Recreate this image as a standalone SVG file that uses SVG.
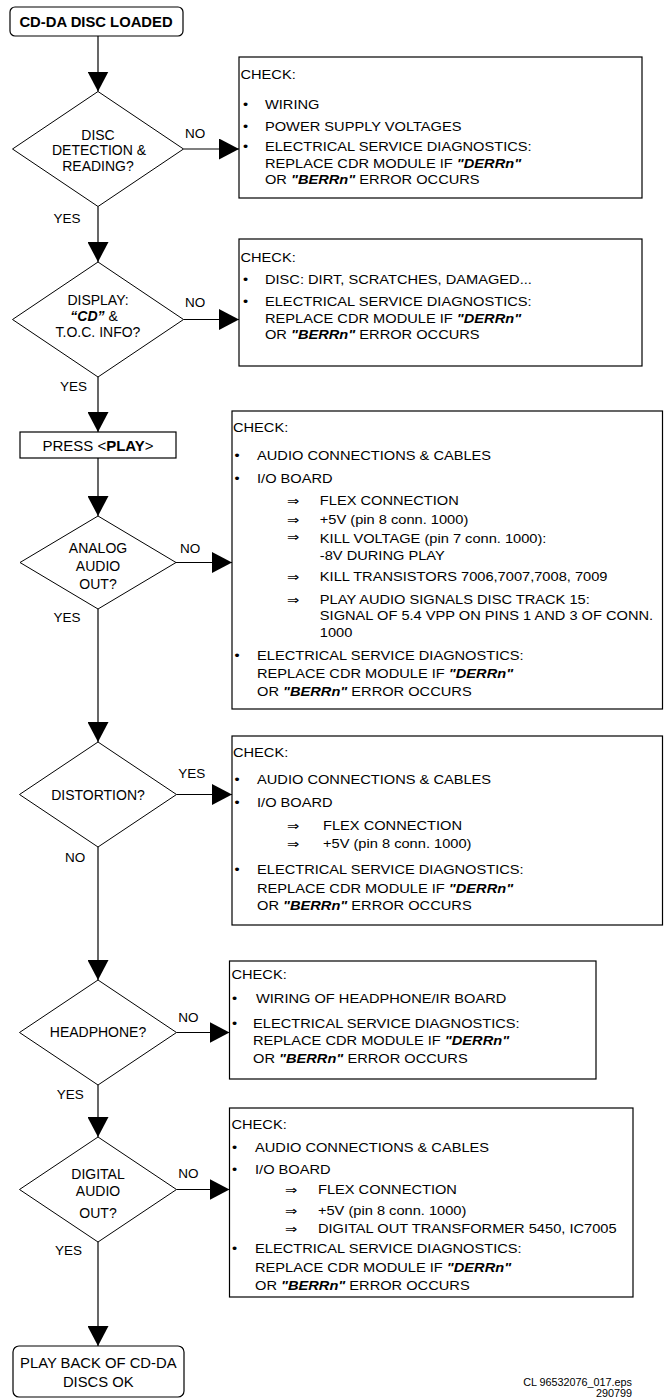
<svg xmlns="http://www.w3.org/2000/svg" width="664" height="1398" viewBox="0 0 664 1398">
<style>
text { font-family: "Liberation Sans", Arial, "DejaVu Sans", sans-serif; fill: #000; }
.box { fill: #fff; stroke: #000; stroke-width: 1.2; }
.dia { fill: #fff; stroke: #000; stroke-width: 1; }
.t14 { font-size: 14px; text-anchor: middle; }
.lbl { font-size: 13.5px; }
.bx { font-size: 12px; }
.bi { font-weight: bold; font-style: italic; }
.b { font-weight: bold; }
.ar { font-family: "DejaVu Sans", sans-serif; }
.conn line { stroke: #000; stroke-width: 1.2; }
.foot { font-size: 10.8px; text-anchor: end; }
</style>
<defs>
<marker id="ah" markerUnits="userSpaceOnUse" markerWidth="20" markerHeight="21" refX="20" refY="10.5" orient="auto" viewBox="0 0 20 21">
<path d="M0,0 L20,10.5 L0,21 Z" fill="#000"/>
</marker>
</defs>
<rect width="664" height="1398" fill="#fff"/>

<g id="connectors" class="conn">
<line x1="98" y1="36" x2="98" y2="91.5" marker-end="url(#ah)"/>
<line x1="98" y1="206.5" x2="98" y2="262" marker-end="url(#ah)"/>
<line x1="98" y1="377" x2="98" y2="432" marker-end="url(#ah)"/>
<line x1="98" y1="458" x2="98" y2="516" marker-end="url(#ah)"/>
<line x1="98" y1="609" x2="98" y2="742" marker-end="url(#ah)"/>
<line x1="98" y1="847" x2="98" y2="980" marker-end="url(#ah)"/>
<line x1="98" y1="1085" x2="98" y2="1137" marker-end="url(#ah)"/>
<line x1="98" y1="1242" x2="98" y2="1346" marker-end="url(#ah)"/>
<line x1="183.5" y1="149" x2="239" y2="149" marker-end="url(#ah)"/>
<line x1="183.5" y1="319.5" x2="239" y2="319.5" marker-end="url(#ah)"/>
<line x1="176" y1="562.5" x2="232" y2="562.5" marker-end="url(#ah)"/>
<line x1="176.5" y1="794.5" x2="232" y2="794.5" marker-end="url(#ah)"/>
<line x1="176.5" y1="1032.5" x2="229.5" y2="1032.5" marker-end="url(#ah)"/>
<line x1="176.5" y1="1189.5" x2="229.5" y2="1189.5" marker-end="url(#ah)"/>
</g>

<g id="labels" class="lbl">
<text x="185" y="137.5">NO</text>
<text x="53.5" y="222.7">YES</text>
<text x="185" y="306.7">NO</text>
<text x="60" y="390.7">YES</text>
<text x="180" y="553">NO</text>
<text x="53.5" y="621.7">YES</text>
<text x="178.3" y="777.7">YES</text>
<text x="65" y="861.7">NO</text>
<text x="178.3" y="1022">NO</text>
<text x="56.7" y="1099">YES</text>
<text x="178.3" y="1178">NO</text>
<text x="55" y="1255.3">YES</text>
</g>

<g id="start">
<rect class="box" x="10" y="7" width="173" height="29" rx="5"/>
<text class="t14 b" x="96" y="27.3" style="font-size:14.8px">CD-DA DISC LOADED</text>
</g>

<g id="d1">
<polygon class="dia" points="98,91.5 183.5,149 98,206.5 12.5,149"/>
<text class="t14" x="98" y="140">DISC</text>
<text class="t14" x="99" y="155">DETECTION &amp;</text>
<text class="t14" x="98" y="171">READING?</text>
</g>

<g id="check1">
<rect class="box" x="239" y="57" width="403" height="141"/>
<g class="bx" transform="translate(239,0) scale(1.22,1)">
<text x="1.2" y="79">CHECK:</text>
<text x="3.3" y="109">•</text><text x="21.3" y="109">WIRING</text>
<text x="3.3" y="131.5">•</text><text x="21.3" y="131.5">POWER SUPPLY VOLTAGES</text>
<text x="3.3" y="151">•</text><text x="21.3" y="151">ELECTRICAL SERVICE DIAGNOSTICS:</text>
<text x="21.3" y="167.7">REPLACE CDR MODULE IF <tspan class="bi">"DERRn"</tspan></text>
<text x="21.3" y="184">OR <tspan class="bi">"BERRn"</tspan> ERROR OCCURS</text>
</g>
</g>

<g id="d2">
<polygon class="dia" points="98,262 183.5,319.5 98,377 12.5,319.5"/>
<text class="t14" x="98" y="305">DISPLAY:</text>
<text class="t14" x="94" y="321"><tspan class="bi">“CD”</tspan> &amp;</text>
<text class="t14" x="98" y="337">T.O.C. INFO?</text>
</g>

<g id="check2">
<rect class="box" x="239" y="239" width="403" height="127"/>
<g class="bx" transform="translate(239,0) scale(1.22,1)">
<text x="1.2" y="262.3">CHECK:</text>
<text x="3.3" y="284.3">•</text><text x="21.3" y="284.3">DISC: DIRT, SCRATCHES, DAMAGED...</text>
<text x="3.3" y="306">•</text><text x="21.3" y="306">ELECTRICAL SERVICE DIAGNOSTICS:</text>
<text x="21.3" y="322.6">REPLACE CDR MODULE IF <tspan class="bi">"DERRn"</tspan></text>
<text x="21.3" y="338.6">OR <tspan class="bi">"BERRn"</tspan> ERROR OCCURS</text>
</g>
</g>

<g id="play">
<rect class="box" x="20" y="432" width="156" height="26"/>
<text class="t14" x="98" y="450.7" style="font-size:15px">PRESS &lt;<tspan class="b">PLAY</tspan>&gt;</text>
</g>

<g id="d3">
<polygon class="dia" points="98,516 176,562.5 98,609 20,562.5"/>
<text class="t14" x="98" y="553">ANALOG</text>
<text class="t14" x="98" y="571">AUDIO</text>
<text class="t14" x="98" y="588.5">OUT?</text>
</g>

<g id="check3">
<rect class="box" x="232" y="411" width="430.5" height="298"/>
<g class="bx" transform="translate(232,0) scale(1.22,1)">
<text x="0.8" y="432.3">CHECK:</text>
<text x="2" y="460.3">•</text><text x="20.5" y="460.3">AUDIO CONNECTIONS &amp; CABLES</text>
<text x="2" y="482.6">•</text><text x="20.5" y="482.6">I/O BOARD</text>
<text class="ar" x="45" y="505">⇒</text><text x="72" y="505">FLEX CONNECTION</text>
<text class="ar" x="45" y="523.6">⇒</text><text x="72" y="523.6">+5V (pin 8 conn. 1000)</text>
<text class="ar" x="45" y="540.6">⇒</text><text x="72" y="542.6">KILL VOLTAGE (pin 7 conn. 1000):</text>
<text x="72" y="560">-8V DURING PLAY</text>
<text class="ar" x="45" y="581">⇒</text><text x="72" y="581">KILL TRANSISTORS 7006,7007,7008, 7009</text>
<text class="ar" x="45" y="603.6">⇒</text><text x="72" y="603.6">PLAY AUDIO SIGNALS DISC TRACK 15:</text>
<text x="72" y="620.3">SIGNAL OF 5.4 VPP ON PINS 1 AND 3 OF CONN.</text>
<text x="72" y="636.6">1000</text>
<text x="2" y="660.3">•</text><text x="20.5" y="660.3">ELECTRICAL SERVICE DIAGNOSTICS:</text>
<text x="20.5" y="678">REPLACE CDR MODULE IF <tspan class="bi">"DERRn"</tspan></text>
<text x="20.5" y="696">OR <tspan class="bi">"BERRn"</tspan> ERROR OCCURS</text>
</g>
</g>

<g id="d4">
<polygon class="dia" points="98,742 176.5,794.5 98,847 19.5,794.5"/>
<text class="t14" x="98" y="800">DISTORTION?</text>
</g>

<g id="check4">
<rect class="box" x="232" y="736" width="430.5" height="189"/>
<g class="bx" transform="translate(232,0) scale(1.22,1)">
<text x="0.8" y="757">CHECK:</text>
<text x="2" y="784.3">•</text><text x="20.5" y="784.3">AUDIO CONNECTIONS &amp; CABLES</text>
<text x="2" y="807">•</text><text x="20.5" y="807">I/O BOARD</text>
<text class="ar" x="45" y="830">⇒</text><text x="74.6" y="830">FLEX CONNECTION</text>
<text class="ar" x="45" y="847.6">⇒</text><text x="74.6" y="847.6">+5V (pin 8 conn. 1000)</text>
<text x="2" y="874.3">•</text><text x="20.5" y="874.3">ELECTRICAL SERVICE DIAGNOSTICS:</text>
<text x="20.5" y="892.6">REPLACE CDR MODULE IF <tspan class="bi">"DERRn"</tspan></text>
<text x="20.5" y="910">OR <tspan class="bi">"BERRn"</tspan> ERROR OCCURS</text>
</g>
</g>

<g id="d5">
<polygon class="dia" points="98,980 176.5,1032.5 98,1085 19.5,1032.5"/>
<text class="t14" x="98" y="1037">HEADPHONE?</text>
</g>

<g id="check5">
<rect class="box" x="229.5" y="961" width="366.5" height="118"/>
<g class="bx" transform="translate(229.5,0) scale(1.22,1)">
<text x="1.6" y="979">CHECK:</text>
<text x="2" y="1003.3">•</text><text x="21.7" y="1003.3">WIRING OF HEADPHONE/IR BOARD</text>
<text x="2" y="1027.6">•</text><text x="19.3" y="1027.6">ELECTRICAL SERVICE DIAGNOSTICS:</text>
<text x="19.3" y="1045.3">REPLACE CDR MODULE IF <tspan class="bi">"DERRn"</tspan></text>
<text x="19.3" y="1063.3">OR <tspan class="bi">"BERRn"</tspan> ERROR OCCURS</text>
</g>
</g>

<g id="d6">
<polygon class="dia" points="98,1137 176.5,1189.5 98,1242 19.5,1189.5"/>
<text class="t14" x="98" y="1179">DIGITAL</text>
<text class="t14" x="98" y="1196">AUDIO</text>
<text class="t14" x="98" y="1218">OUT?</text>
</g>

<g id="check6">
<rect class="box" x="229.5" y="1108" width="403.5" height="189"/>
<g class="bx" transform="translate(229.5,0) scale(1.22,1)">
<text x="1.6" y="1129.3">CHECK:</text>
<text x="2" y="1151.6">•</text><text x="20.9" y="1151.6">AUDIO CONNECTIONS &amp; CABLES</text>
<text x="2" y="1173.6">•</text><text x="20.9" y="1173.6">I/O BOARD</text>
<text class="ar" x="45.5" y="1194.3">⇒</text><text x="72.5" y="1194.3">FLEX CONNECTION</text>
<text class="ar" x="45.5" y="1215">⇒</text><text x="72.5" y="1215">+5V (pin 8 conn. 1000)</text>
<text class="ar" x="45.5" y="1233.3">⇒</text><text x="72.5" y="1233.3">DIGITAL OUT TRANSFORMER 5450, IC7005</text>
<text x="2" y="1253.3">•</text><text x="20.9" y="1253.3">ELECTRICAL SERVICE DIAGNOSTICS:</text>
<text x="20.9" y="1272.3">REPLACE CDR MODULE IF <tspan class="bi">"DERRn"</tspan></text>
<text x="20.9" y="1290.5">OR <tspan class="bi">"BERRn"</tspan> ERROR OCCURS</text>
</g>
</g>

<g id="end">
<rect class="box" x="13" y="1346" width="171" height="51" rx="6"/>
<text class="t14" x="98.3" y="1368" style="font-size:14.8px">PLAY BACK OF CD-DA</text>
<text class="t14" x="98.3" y="1386.7" style="font-size:14.8px">DISCS OK</text>
</g>

<g id="footer">
<text class="foot" x="632" y="1385.7">CL 96532076_017.eps</text>
<text class="foot" x="632" y="1397.3">290799</text>
</g>
</svg>
